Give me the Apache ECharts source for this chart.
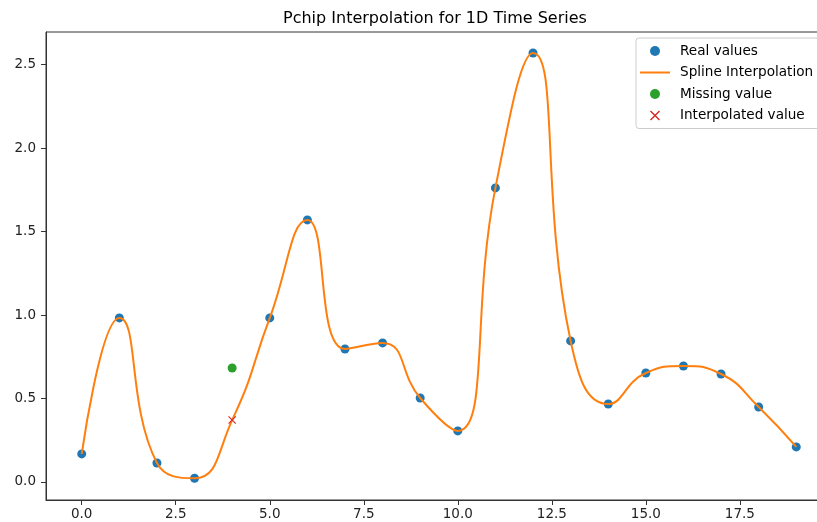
<!DOCTYPE html>
<html>
<head>
<meta charset="utf-8">
<script src="https://cdn.jsdelivr.net/npm/echarts@6/dist/echarts.min.js"></script>
<style>
  html, body { margin: 0; padding: 0; overflow: hidden; background: #fff; }
  #chart { width: 840px; height: 522px; }
</style>
</head>
<body>
<div id="chart"></div>
<script>
  // time steps and observed values (index 4 is the missing one)
  const timeSteps = [0, 1, 2, 3, 4, 5, 6, 7, 8, 9, 10, 11, 12, 13, 14, 15, 16, 17, 18, 19];
  const realValues = [0.168, 0.983, 0.114, 0.022, null, 0.983, 1.570, 0.797, 0.833, 0.503,
                      0.306, 1.762, 2.570, 0.845, 0.467, 0.653, 0.695, 0.647, 0.449, 0.210];
  const missingStep = 4;
  const missingValue = 0.683;
  const interpolatedValue = 0.371;
  const xTicks = [0, 2.5, 5, 7.5, 10, 12.5, 15, 17.5];
  const yTicks = [0, 0.5, 1, 1.5, 2, 2.5];

  const chart = echarts.init(document.getElementById('chart'));

  const realPoints = [];
  const curvePoints = [];
  timeSteps.forEach((t, i) => {
    if (realValues[i] !== null) {
      realPoints.push([t, realValues[i]]);
      curvePoints.push([t, realValues[i]]);
    } else {
      curvePoints.push([t, interpolatedValue]);
    }
  });

  const crossIcon = 'path://M0,1L1,0L10,9L9,10ZM9,0L10,1L1,10L0,9Z';
  const lineIcon = 'path://M0,0H15V1H0Z';
  const font = 'DejaVu Sans';
  const axisColor = '#333';

  const option = {
    animation: false,
    textStyle: { fontFamily: font },
    title: {
      text: 'Pchip Interpolation for 1D Time Series',
      left: 278,
      top: 6,
      textStyle: { fontFamily: font, fontSize: 16, fontWeight: 'normal', color: '#000' },
    },
    legend: {
      orient: 'vertical',
      left: 636,
      top: 38,
      padding: [6, 12, 6, 4],
      itemGap: 7.5,
      itemWidth: 30,
      itemHeight: 10,
      borderColor: '#ccc',
      borderWidth: 1,
      borderRadius: 3,
      textStyle: { fontFamily: font, fontSize: 13.6, color: '#000', lineHeight: 14, padding: [0, 0, 0, 5] },
      data: [
        { name: 'Real values', icon: 'circle' },
        { name: 'Spline Interpolation', icon: lineIcon },
        { name: 'Missing value', icon: 'circle' },
        { name: 'Interpolated value', icon: crossIcon },
      ],
    },
    grid: {
      left: 46,
      right: 8,
      top: 32,
      bottom: 22,
      show: true,
      borderColor: axisColor,
      borderWidth: 1,
    },
    xAxis: {
      type: 'value',
      min: -0.95,
      max: 19.95,
      splitLine: { show: false },
      axisLine: { onZero: false, lineStyle: { color: axisColor } },
      axisTick: { length: 5, lineStyle: { color: axisColor }, customValues: xTicks },
      axisLabel: {
        customValues: xTicks,
        margin: 7,
        fontSize: 13.5,
        color: '#222',
        formatter: (v) => v.toFixed(1),
      },
    },
    yAxis: {
      type: 'value',
      min: -0.108,
      max: 2.696,
      splitLine: { show: false },
      axisLine: { show: true, onZero: false, lineStyle: { color: axisColor } },
      axisTick: { show: true, length: 5, lineStyle: { color: axisColor }, customValues: yTicks },
      axisLabel: {
        customValues: yTicks,
        margin: 10,
        fontSize: 13.5,
        color: '#222',
        formatter: (v) => v.toFixed(1),
      },
    },
    series: [
      {
        name: 'Real values',
        type: 'scatter',
        symbol: 'circle',
        symbolSize: 9,
        itemStyle: { color: '#1f77b4', opacity: 1 },
        data: realPoints,
        z: 2,
      },
      {
        name: 'Spline Interpolation',
        type: 'line',
        smooth: 0.5,
        symbol: 'none',
        lineStyle: { color: '#ff7f0e', width: 2 },
        itemStyle: { color: '#ff7f0e' },
        data: curvePoints,
        z: 3,
      },
      {
        name: 'Missing value',
        type: 'scatter',
        symbol: 'circle',
        symbolSize: 9,
        itemStyle: { color: '#2ca02c', opacity: 1 },
        data: [[missingStep, missingValue]],
        z: 4,
      },
      {
        name: 'Interpolated value',
        type: 'scatter',
        symbol: crossIcon,
        symbolSize: 8,
        itemStyle: { color: '#d62728', opacity: 1 },
        data: [[missingStep, interpolatedValue]],
        z: 5,
      },
    ],
  };

  chart.setOption(option);
</script>
</body>
</html>
